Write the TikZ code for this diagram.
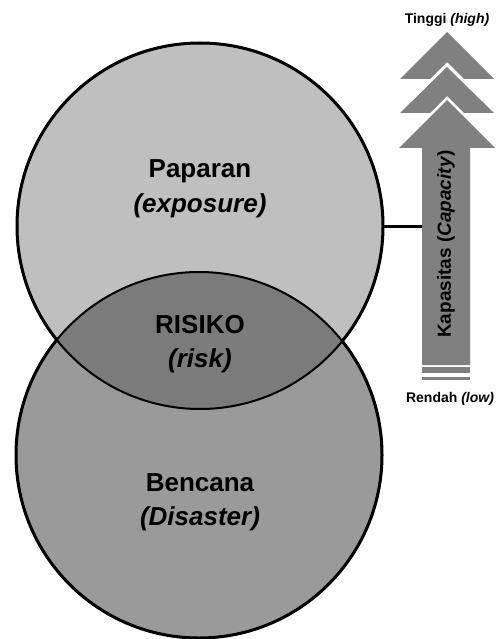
\documentclass[tikz,border=0pt]{standalone}
\usepackage{fontspec}
\setmainfont{Liberation Sans}
\definecolor{lightg}{HTML}{BFBFBF}
\definecolor{midg}{HTML}{9A9A9A}
\definecolor{darkg}{HTML}{7B7B7B}
\definecolor{arrowg}{HTML}{808080}
\begin{document}
\begin{tikzpicture}[x=1pt,y=-1pt,
  bigcirc/.style={circle, minimum size=366pt, inner sep=0pt},
  bigtxt/.style={font=\fontsize{26}{30}\selectfont\bfseries, anchor=base, inner sep=0pt},
  bigital/.style={font=\fontsize{26}{30}\selectfont\bfseries\itshape, anchor=base, inner sep=0pt},
  smalltxt/.style={font=\fontsize{14}{16}\selectfont\bfseries, anchor=base, inner sep=0pt}]
\useasboundingbox (0,0) rectangle (501,639);
% circles
\node[bigcirc, fill=lightg] (top) at (200,226) {};
\node[bigcirc, fill=midg] (bot) at (199,455) {};
\begin{scope}
  \clip (top.center) circle[radius=183pt];
  \fill[darkg] (bot.center) circle[radius=183pt];
\end{scope}
\draw[line width=2pt] (top.center) circle[radius=183pt];
\draw[line width=2pt] (bot.center) circle[radius=183pt];
\begin{scope}[even odd rule]
  \clip (-10,-10) rectangle (520,660) (bot.center) circle[radius=183pt];
  \draw[line width=3pt] (top.center) circle[radius=183pt];
\end{scope}
\begin{scope}[even odd rule]
  \clip (-10,-10) rectangle (520,660) (top.center) circle[radius=183pt];
  \draw[line width=3pt] (bot.center) circle[radius=183pt];
\end{scope}
% texts in circles
\node[bigtxt] (pap) at (200,177) {Paparan};
\node[bigital] (exp) at (200,212) {(exposure)};
\node[bigtxt] (ris) at (200,333) {RISIKO};
\node[bigital] (rsk) at (200,367) {(risk)};
\node[bigtxt] (ben) at (200,491) {Bencana};
\node[bigital] (dis) at (200,525) {(Disaster)};
% capacity arrow
\fill[arrowg] (400,79) -- (447,32) -- (494,79) -- (464,79) -- (447,62) -- (430,79) -- cycle;
\fill[arrowg] (400,113) -- (447,67) -- (494,113) -- (464,113) -- (447,96) -- (430,113) -- cycle;
\fill[arrowg] (399,148) -- (447,100) -- (495,148) -- (470,148) -- (470,365) -- (422,365) -- (422,148) -- cycle;
\fill[arrowg] (422,367) rectangle (470,373);
\fill[arrowg] (422,377) rectangle (470,380);
\node[minimum width=48pt, minimum height=217pt, inner sep=0pt] (shaft) at (446,256.5) {};
\node[rotate=90, font=\fontsize{19}{23}\selectfont\bfseries, inner sep=0pt] (cap) at (446,244) {Kapasitas (\textit{Capacity})};
\node[smalltxt] (hi) at (447,24) {Tinggi \textit{(high)}};
\node[smalltxt] (lo) at (450,402) {Rendah \textit{(low)}};
% connector
\draw[line width=3pt] (top.east) -- (top.east -| shaft.west);
\end{tikzpicture}
\end{document}
